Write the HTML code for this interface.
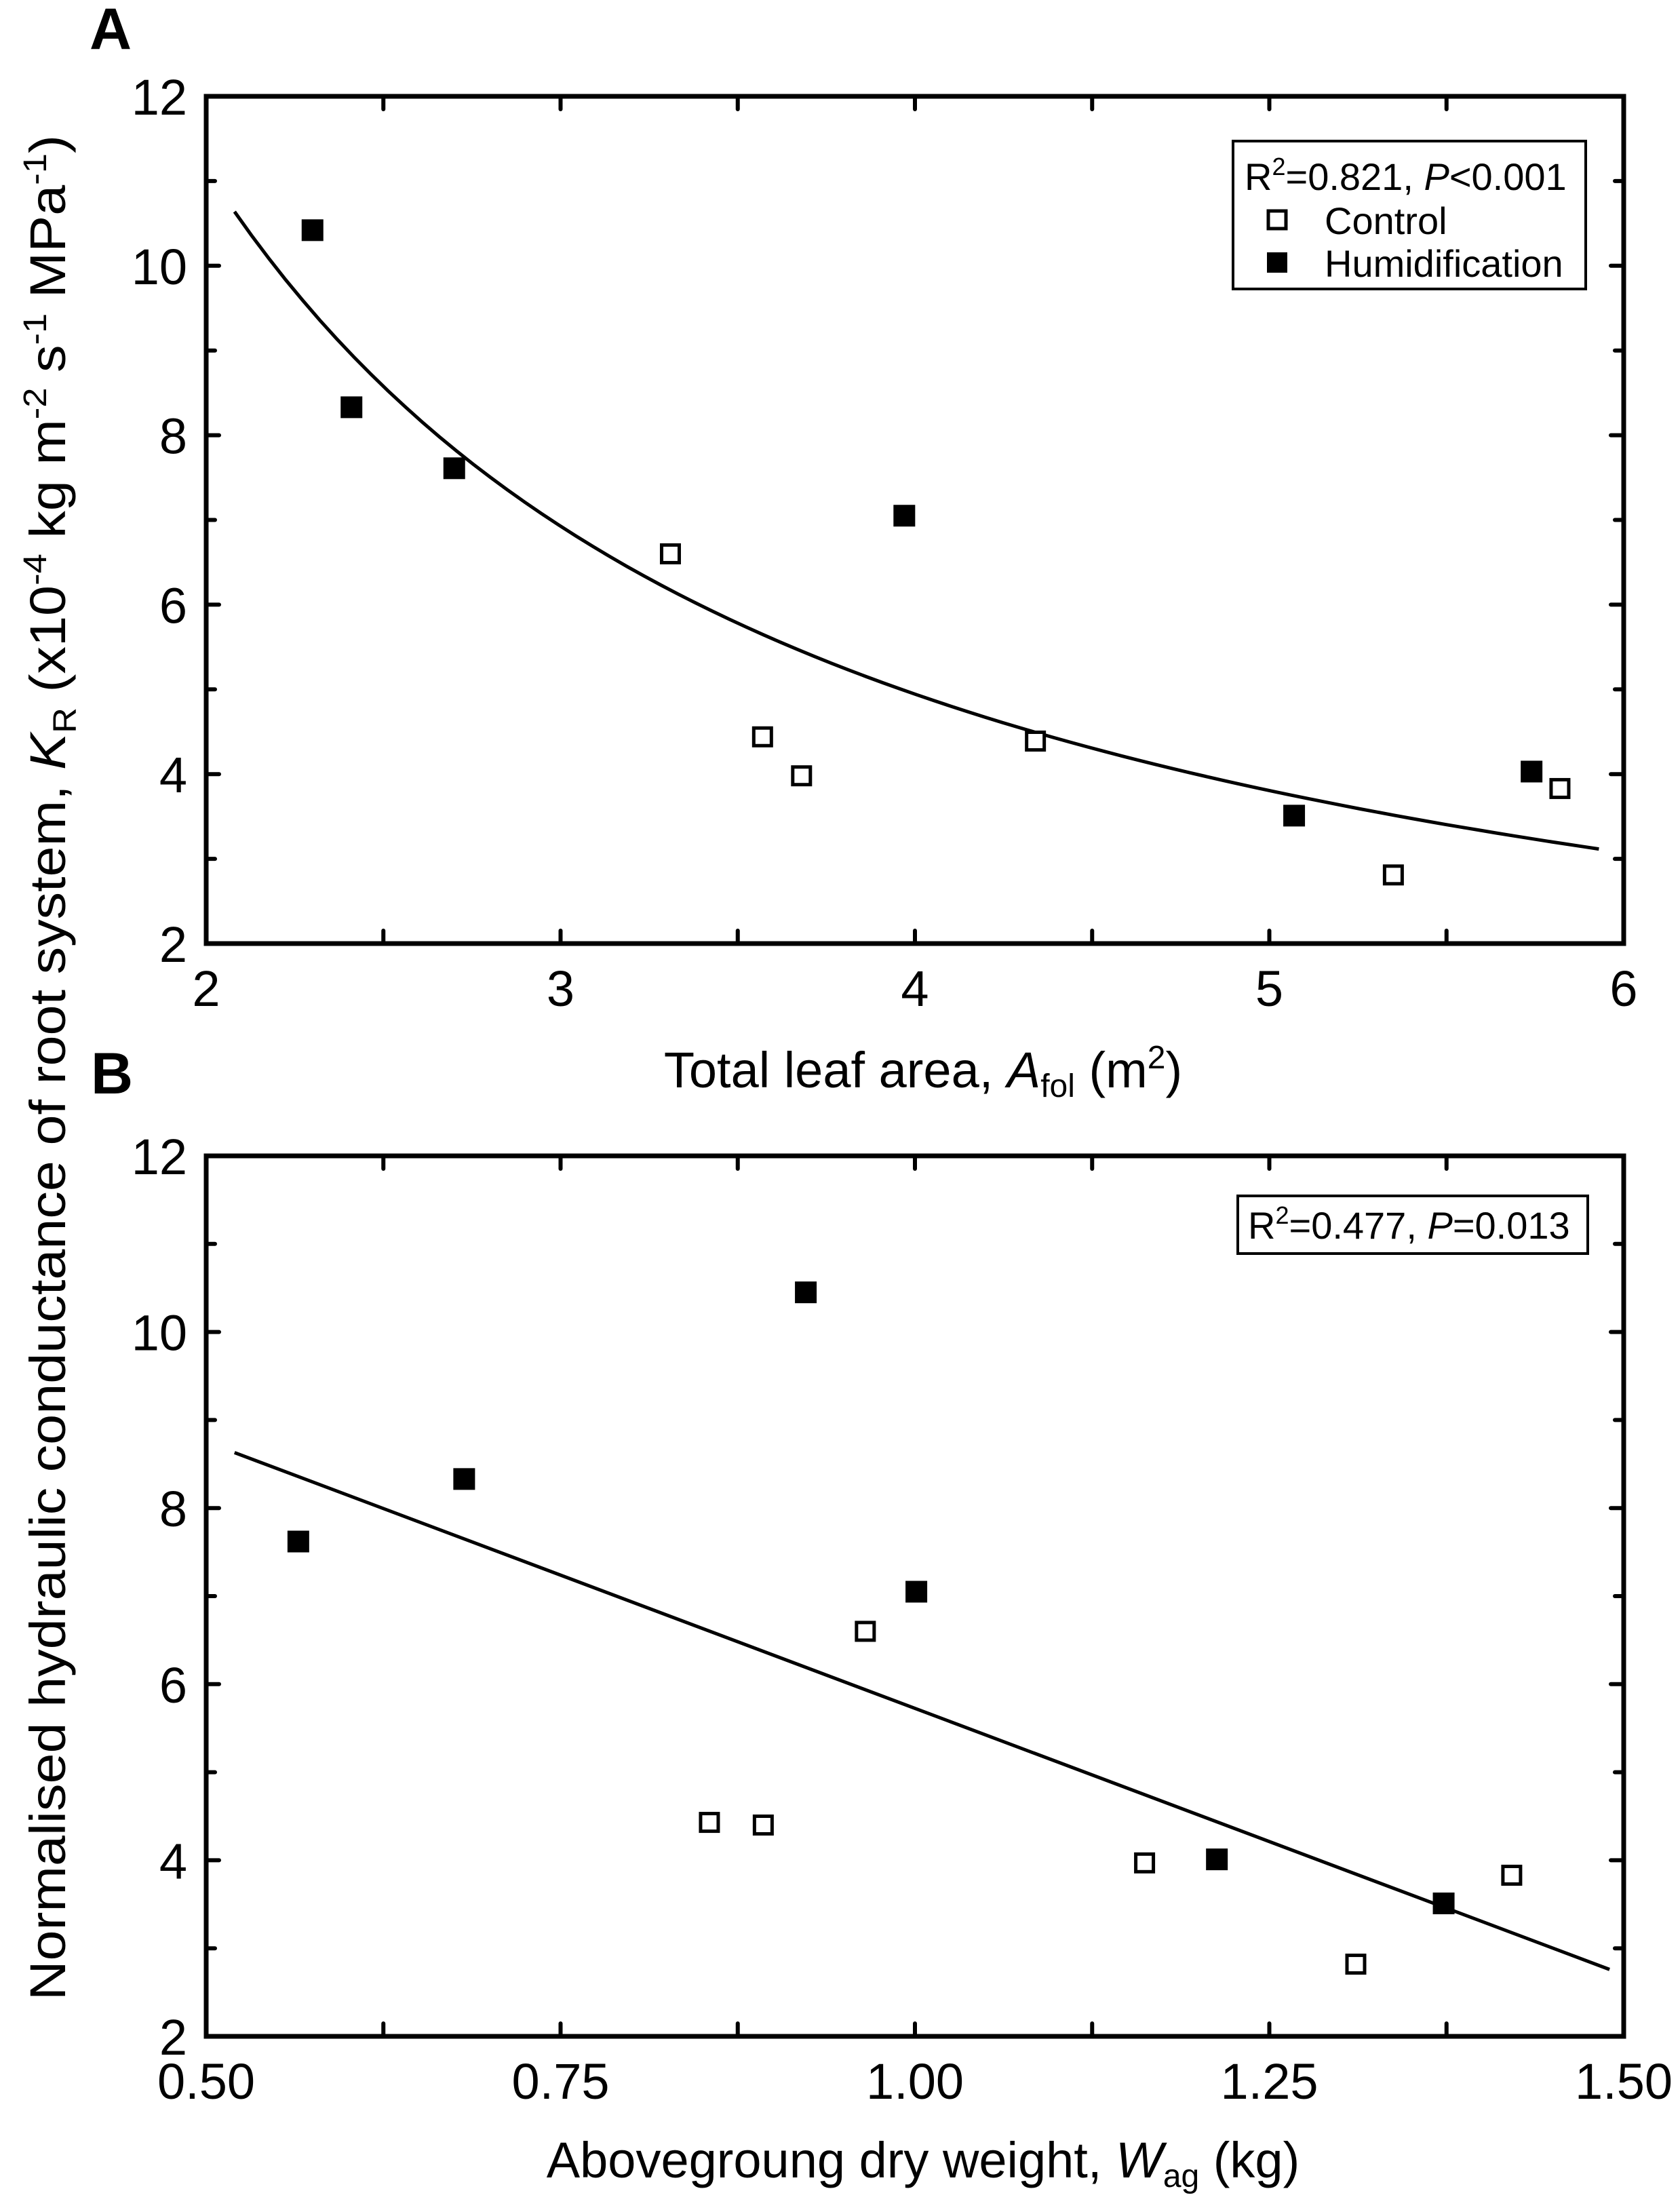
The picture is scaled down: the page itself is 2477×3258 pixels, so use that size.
<!DOCTYPE html>
<html><head><meta charset="utf-8">
<style>
html,body{margin:0;padding:0;background:#fff;}
svg{display:block;font-family:"Liberation Sans",Arial,sans-serif;}
</style></head>
<body>
<svg id="fig" width="2477" height="3258" viewBox="0 0 2477 3258" xmlns="http://www.w3.org/2000/svg">
<rect x="0" y="0" width="2477" height="3258" fill="#fff"/>
<text x="132" y="72" font-size="86" font-weight="bold">A</text>
<text x="134" y="1612" font-size="86" font-weight="bold">B</text>
<text transform="translate(96,1574) rotate(-90)" text-anchor="middle" font-size="74" textLength="2750" lengthAdjust="spacingAndGlyphs">Normalised hydraulic conductance of root system, <tspan font-style="italic">K</tspan><tspan font-size="48" dy="16">R</tspan><tspan dy="-16"> (x10</tspan><tspan font-size="48" dy="-28">-4</tspan><tspan dy="28">  kg m</tspan><tspan font-size="48" dy="-28">-2</tspan><tspan dy="28"> s</tspan><tspan font-size="48" dy="-28">-1</tspan><tspan dy="28"> MPa</tspan><tspan font-size="48" dy="-28">-1</tspan><tspan dy="28">)</tspan></text>
<text x="1361" y="1603" text-anchor="middle" font-size="74">Total leaf area, <tspan font-style="italic">A</tspan><tspan font-size="48" dy="14">fol</tspan><tspan dy="-14"> (m</tspan><tspan font-size="48" dy="-28">2</tspan><tspan dy="28">)</tspan></text>
<text x="1361" y="3210" text-anchor="middle" font-size="74">Abovegroung dry weight, <tspan font-style="italic">W</tspan><tspan font-size="48" dy="14">ag</tspan><tspan dy="-14"> (kg)</tspan></text>
<g id="legA">
<rect x="1818" y="208" width="520" height="218" fill="#fff" stroke="#000" stroke-width="4"/>
<text x="1835" y="280" font-size="56">R<tspan font-size="36" dy="-22">2</tspan><tspan dy="22">=0.821, </tspan><tspan font-style="italic">P</tspan>&lt;0.001</text>
<rect x="1870" y="311" width="26" height="26" fill="#fff" stroke="#000" stroke-width="5"/>
<text x="1953" y="345" font-size="56">Control</text>
<rect x="1868" y="372" width="30" height="30" fill="#000"/>
<text x="1953" y="408" font-size="56">Humidification</text>
</g>
<g id="legB">
<rect x="1825" y="1763" width="516" height="85" fill="#fff" stroke="#000" stroke-width="4"/>
<text x="1840" y="1826" font-size="56">R<tspan font-size="36" dy="-22">2</tspan><tspan dy="22">=0.477, </tspan><tspan font-style="italic">P</tspan>=0.013</text>
</g>
</svg>
<script>
// Panel A data
const aHumX = [2.30, 2.41, 2.70, 3.97, 5.07, 5.74];
const aHumY = [10.42, 8.33, 7.61, 7.05, 3.51, 4.03];
const aCtlX = [3.31, 3.57, 3.68, 4.34, 5.35, 5.82];
const aCtlY = [6.60, 4.44, 3.98, 4.39, 2.81, 3.83];
const aFit = [25.1, -1.172, 2.08, 5.93]; // a, b, xmin, xmax of power fit y=a*x^b
const aXTicks = ["2", "3", "4", "5", "6"];
const aXTickVals = [2, 3, 4, 5, 6];
const aYTicks = ["2", "4", "6", "8", "10", "12"];
const aYTickVals = [2, 4, 6, 8, 10, 12];
// Panel B data
const bHumX = [0.565, 0.682, 0.923, 1.001, 1.213, 1.373];
const bHumY = [7.62, 8.33, 10.45, 7.05, 4.01, 3.51];
const bCtlX = [0.965, 0.855, 0.893, 1.162, 1.311, 1.421];
const bCtlY = [6.60, 4.43, 4.40, 3.97, 2.82, 3.83];
const bFit = [0.52, 8.63, 1.49, 2.76]; // x0, y0, x1, y1
const bXTicks = ["0.50", "0.75", "1.00", "1.25", "1.50"];
const bXTickVals = [0.5, 0.75, 1.0, 1.25, 1.5];
const bYTicks = ["2", "4", "6", "8", "10", "12"];
const bYTickVals = [2, 4, 6, 8, 10, 12];

const NS = "http://www.w3.org/2000/svg";
const svg = document.getElementById('fig');
function mk(tag, attrs, parent) {
  const e = document.createElementNS(NS, tag);
  for (const k in attrs) e.setAttribute(k, attrs[k]);
  (parent || svg).appendChild(e);
  return e;
}
function panel(p) {
  const sx = v => p.L + (v - p.x0) / (p.x1 - p.x0) * (p.R - p.L);
  const sy = v => p.B - (v - p.y0) / (p.y1 - p.y0) * (p.B - p.T);
  const g = mk('g', {});
  
  
  const xstep = (p.xt[1] - p.xt[0]) / 2;
  for (let v = p.x0; v <= p.x1 + 1e-9; v += xstep) {
    const x = sx(v);
    const len = 19;
    const t1 = mk('line', {x1: x, y1: p.B, x2: x, y2: p.B - len, stroke: '#000', 'stroke-width': 6, 'stroke-linecap': 'round'}, g);
    
    
    const t2 = mk('line', {x1: x, y1: p.T, x2: x, y2: p.T + len, stroke: '#000', 'stroke-width': 6, 'stroke-linecap': 'round'}, g);
    
    
  }
  for (let v = p.y0; v <= p.y1 + 1e-9; v += 1) {
    const y = sy(v);
    const len = (v % 2 === 0) ? 19 : 13;
    const t1 = mk('line', {x1: p.L, y1: y, x2: p.L + len, y2: y, stroke: '#000', 'stroke-width': 6, 'stroke-linecap': 'round'}, g);
    
    
    const t2 = mk('line', {x1: p.R, y1: y, x2: p.R - len, y2: y, stroke: '#000', 'stroke-width': 6, 'stroke-linecap': 'round'}, g);
    
    
  }
  const frame = mk('rect', {x: p.L, y: p.T, width: p.R - p.L, height: p.B - p.T, fill: 'none', stroke: '#000', 'stroke-width': 7}, g);
  
  
  p.xt.forEach((v, i) => {
    const t = mk('text', {x: sx(v), y: p.B + 92, 'text-anchor': 'middle', 'font-size': 74}, g);
    t.textContent = p.xl[i];
    
    
  });
  p.yt.forEach((v, i) => {
    const t = mk('text', {x: p.L - 28, y: sy(v) + 27, 'text-anchor': 'end', 'font-size': 74}, g);
    t.textContent = p.yl[i];
    
    
  });
  const fl = mk('path', {d: p.fit(sx, sy), fill: 'none', stroke: '#000', 'stroke-width': 5}, g);
  
  
  const s = 32;
  p.cx.forEach((v, i) => {
    const r = mk('rect', {x: sx(v) - s / 2 + 3, y: sy(p.cy[i]) - s / 2 + 3, width: s - 6, height: s - 6, fill: '#fff', stroke: '#000', 'stroke-width': 5}, g);
    
    
  });
  p.hx.forEach((v, i) => {
    const r = mk('rect', {x: sx(v) - s / 2, y: sy(p.hy[i]) - s / 2, width: s, height: s, fill: '#000'}, g);
    
    
  });
  return g;
}
const gA = panel({name: 'panel-a', L: 304, R: 2394, T: 142, B: 1391, x0: 2, x1: 6, y0: 2, y1: 12,
  xt: aXTickVals, xl: aXTicks, yt: aYTickVals, yl: aYTicks,
  hx: aHumX, hy: aHumY, cx: aCtlX, cy: aCtlY,
  fit: (sx, sy) => {
    let d = '';
    for (let k = 0; k <= 80; k++) {
      const x = aFit[2] + (aFit[3] - aFit[2]) * k / 80;
      const y = aFit[0] * Math.pow(x, aFit[1]);
      d += (k ? 'L' : 'M') + sx(x).toFixed(1) + ',' + sy(y).toFixed(1);
    }
    return d;
  }});
const gB = panel({name: 'panel-b', L: 304, R: 2394, T: 1704, B: 3002, x0: 0.5, x1: 1.5, y0: 2, y1: 12,
  xt: bXTickVals, xl: bXTicks, yt: bYTickVals, yl: bYTicks,
  hx: bHumX, hy: bHumY, cx: bCtlX, cy: bCtlY,
  fit: (sx, sy) => 'M' + sx(bFit[0]) + ',' + sy(bFit[1]) + 'L' + sx(bFit[2]) + ',' + sy(bFit[3])});
svg.appendChild(document.getElementById('legA'));
svg.appendChild(document.getElementById('legB'));
</script>
</body></html>
